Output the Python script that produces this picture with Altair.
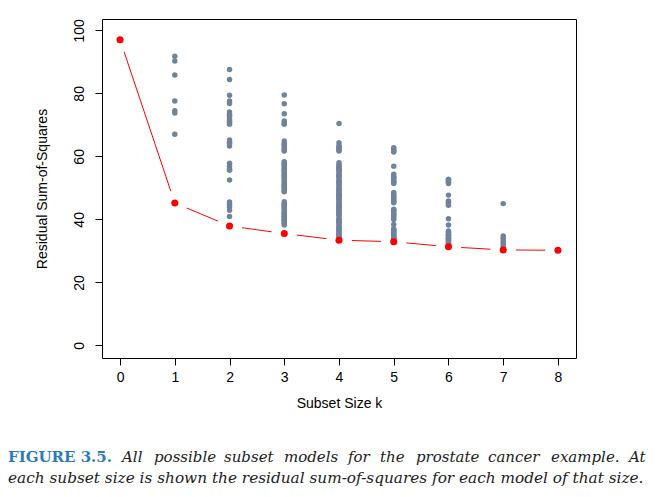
import altair as alt
import pandas as pd

# Residual sum-of-squares of all subset models
k_values = [1, 2, 3, 4, 5, 6, 7]
rss_k1 = [91.8, 90.3, 85.8, 77.6, 74.5, 73.8, 67.0]
rss_k2 = [87.6, 84.4, 79.4, 77.6, 76.8, 74.1, 73.3, 73.0, 72.5, 71.7, 71.0, 70.9, 70.2,
          65.2, 64.5, 64.1, 63.3, 57.8, 56.9, 55.9, 55.6, 52.5, 45.5, 44.8, 44.0, 42.9, 40.9]
rss_k3 = [79.5, 76.7, 73.5, 71.2, 70.5, 70.2, 64.9, 64.0, 63.8, 63.2, 62.5, 62.0, 61.7,
          58.3, 58.0, 57.6, 57.0, 56.9, 56.0, 55.8, 55.3, 55.0, 54.3, 54.0, 53.6, 53.0, 52.8,
          52.0, 51.4, 51.0, 50.7, 50.3, 50.0, 49.4, 49.0, 48.8,
          45.6, 45.0, 44.8, 44.4, 44.0, 43.7, 43.1, 42.5, 42.0, 41.9, 41.3, 41.0, 40.7, 40.1,
          40.0, 39.6, 39.0, 38.6, 38.2]
rss_k4 = [70.4, 64.3, 63.4, 63.0, 62.5, 62.0, 61.7,
          58.0, 57.3, 57.0, 56.6, 56.2, 55.9, 55.5, 55.2, 54.5, 54.0, 53.8, 53.5, 53.1, 52.4,
          52.0, 51.7, 51.3, 51.0, 50.3, 50.0, 49.6, 49.2, 48.9, 48.2, 48.0, 47.8, 47.5, 47.0,
          46.8, 46.5, 46.1, 45.4, 45.0, 44.7, 44.3, 44.0, 43.8, 43.3, 43.0, 42.6, 42.0, 41.9,
          41.5, 41.2, 40.5, 40.0, 39.8, 39.5, 39.1, 38.9, 38.4, 37.7, 37.5, 37.0, 36.8, 36.3,
          36.0, 35.6, 35.0, 34.9, 34.6, 34.3]
rss_k5 = [62.7, 62.2, 61.8, 61.4, 56.9, 54.3, 53.6, 53.3, 53.0, 52.3, 52.0, 51.7, 51.4,
          48.5, 47.8, 47.4, 47.0, 46.3, 46.0, 45.6, 45.3, 43.2, 42.9, 42.5, 41.8, 41.5, 41.2,
          40.6, 40.0, 38.4, 37.0, 36.8, 36.5, 36.3, 35.8, 35.5, 35.3, 34.8, 34.5, 34.3, 34.0,
          33.9, 33.6]
rss_k6 = [52.7, 52.5, 52.2, 51.8, 51.4, 47.7, 45.8, 45.5, 45.2, 44.5, 40.2, 38.2, 36.3,
          36.0, 35.8, 35.3, 35.0, 34.8, 34.3, 34.0, 33.8, 33.5, 33.3, 32.9, 32.6, 32.3, 32.0]
rss_k7 = [45.0, 34.7, 34.0, 33.2, 32.5, 31.8, 31.0]
all_rss = [rss_k1, rss_k2, rss_k3, rss_k4, rss_k5, rss_k6, rss_k7]

# Best subset (minimum RSS) at each size
best_k = [0, 1, 2, 3, 4, 5, 6, 7, 8]
best_rss = [97.0, 45.2, 37.9, 35.5, 33.4, 32.9, 31.3, 30.3, 30.2]

x_ticks = [0, 1, 2, 3, 4, 5, 6, 7, 8]
y_ticks = [0, 20, 40, 60, 80, 100]

caption_fig = "FIGURE 3.5."
caption_l1_words = ["All", "possible", "subset", "models", "for", "the", "prostate",
                    "cancer", "example.", "At"]
caption_l2 = "each subset size is shown the residual sum-of-squares for each model of that size."

rows = []
for k, vals in zip(k_values, all_rss):
    for v in vals:
        rows.append({"k": k, "rss": v})
gray_df = pd.DataFrame(rows)
best_df = pd.DataFrame({"k": best_k, "rss": best_rss})

xs = alt.Scale(domain=[-0.33, 8.33], nice=False, zero=False)
ys = alt.Scale(domain=[-4.0, 103.6], nice=False, zero=False)

x_enc = alt.X("k:Q", scale=xs, axis=alt.Axis(
    values=x_ticks, title="Subset Size k", grid=False, domain=False,
    tickSize=7, tickColor="black", labelFont="Liberation Sans", labelFontSize=14,
    labelColor="black", labelPadding=5, titleFont="Liberation Sans", titleFontSize=14,
    titleFontWeight="normal", titleColor="black", titlePadding=12, format="d"))
y_enc = alt.Y("rss:Q", scale=ys, axis=alt.Axis(
    values=y_ticks, title="Residual Sum-of-Squares", grid=False, domain=False,
    tickSize=7, tickColor="black", labelFont="Liberation Sans", labelFontSize=14,
    labelColor="black", labelAngle=270, labelAlign="center", labelBaseline="bottom",
    labelPadding=9, titleFont="Liberation Sans", titleFontSize=14,
    titleFontWeight="normal", titleColor="black", titlePadding=23, format="d"))

line = alt.Chart(best_df).mark_line(color="red", strokeWidth=1).encode(x=x_enc, y=y_enc)
halo = alt.Chart(best_df).mark_point(filled=True, shape="circle", color="white",
                                     size=650, opacity=1).encode(x="k:Q", y="rss:Q")
gray = alt.Chart(gray_df).mark_point(filled=True, shape="circle", color="#71829B",
                                     size=30, opacity=1).encode(x="k:Q", y="rss:Q")
red = alt.Chart(best_df).mark_point(filled=True, shape="circle", color="#FF0000",
                                    size=50, opacity=1).encode(x="k:Q", y="rss:Q")

# Caption (text layout, justified like the printed book)
word_x = [20, 52, 122, 182, 246, 278, 314, 386, 449, 527]
layers = [line, halo, gray, red]
layers.append(alt.Chart(pd.DataFrame({"t": [caption_fig]})).mark_text(
    align="left", baseline="middle", font="DejaVu Serif", fontSize=15, fontWeight="bold",
    color="#2B7BBE").encode(text="t:N", x=alt.value(-94), y=alt.value(438)))
for w, px in zip(caption_l1_words, word_x):
    layers.append(alt.Chart(pd.DataFrame({"t": [w]})).mark_text(
        align="left", baseline="middle", font="DejaVu Serif", fontSize=15,
        fontStyle="italic", color="#222222").encode(
        text="t:N", x=alt.value(px), y=alt.value(438)))
layers.append(alt.Chart(pd.DataFrame({"t": [caption_l2]})).mark_text(
    align="left", baseline="middle", font="DejaVu Serif", fontSize=15.3, fontStyle="italic",
    color="#222222").encode(text="t:N", x=alt.value(-94), y=alt.value(459)))

chart = alt.layer(*layers).properties(
    width=474, height=339,
    autosize=alt.AutoSizeParams(type="none"),
    padding={"left": 94, "top": 11, "right": 74, "bottom": 131},
).configure_view(stroke="black", strokeWidth=1)

chart.save("out.html", embed_options={"renderer": "svg", "actions": False})
